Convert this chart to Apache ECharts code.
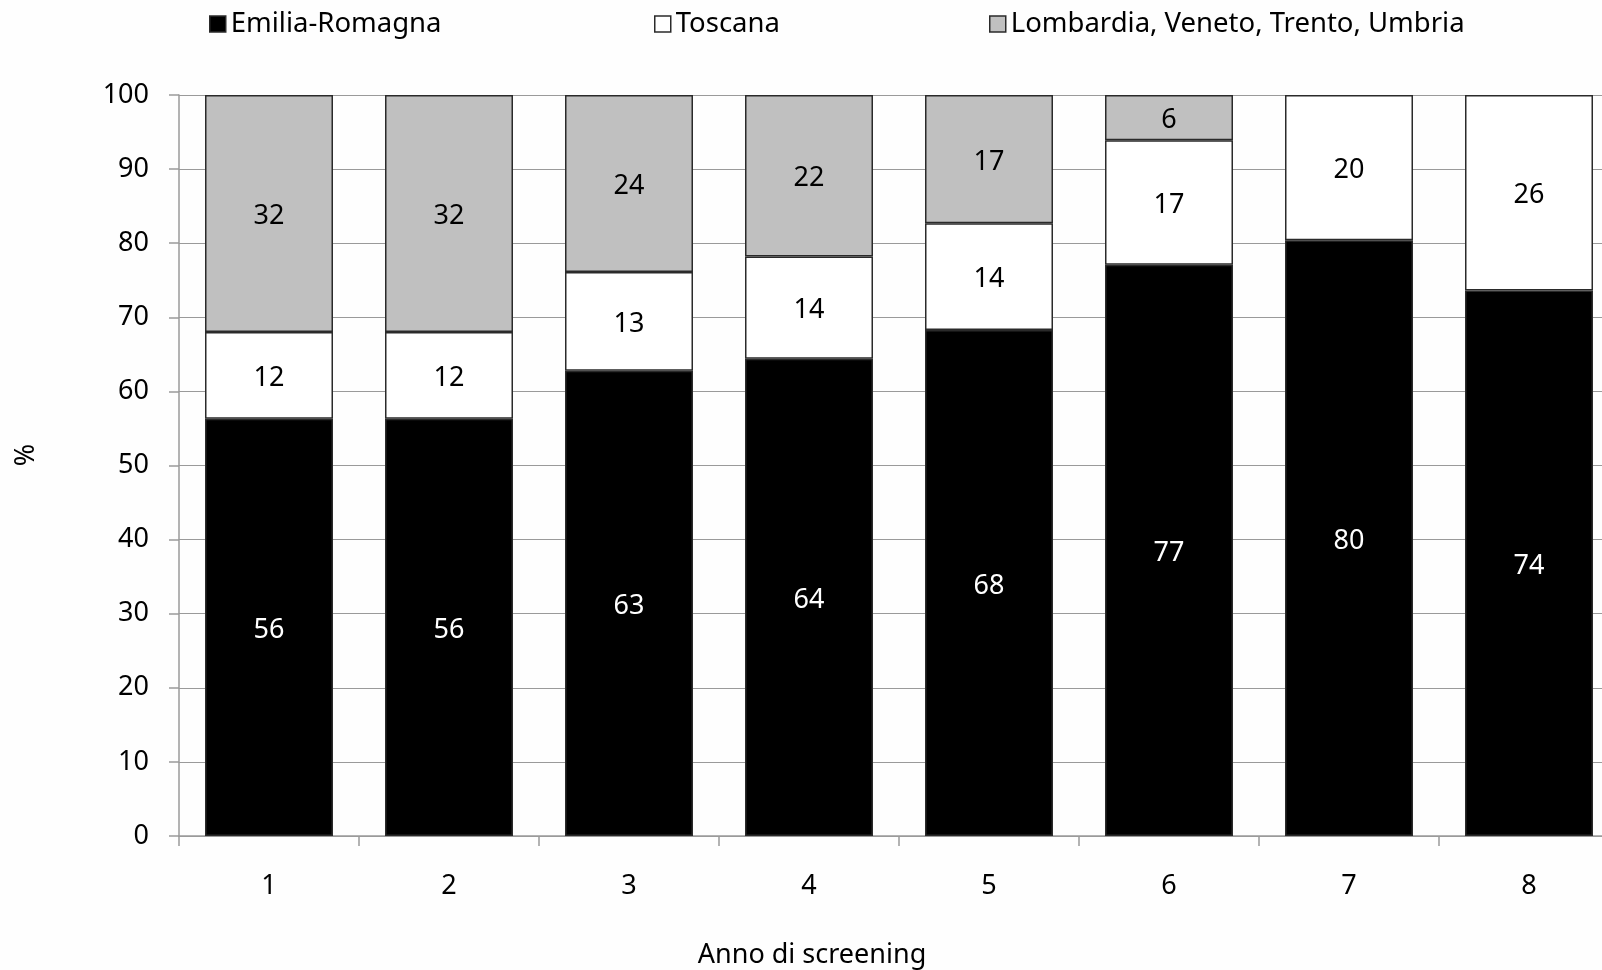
<!DOCTYPE html>
<html><head><meta charset="utf-8">
<script src="https://cdn.jsdelivr.net/npm/echarts@6/dist/echarts.min.js"></script>
<style>html,body{margin:0;padding:0;background:#fefefe;overflow:hidden}#c{width:1620px;height:970px}</style>
</head><body><div id="c"></div>
<script>
const categories = ['1','2','3','4','5','6','7','8'];
const emiliaRomagna = [56.3, 56.3, 62.8, 64.4, 68.3, 77.1, 80.4, 73.6];
const toscana = [11.7, 11.7, 13.3, 13.8, 14.4, 16.8, 19.6, 26.4];
const altre = [32.0, 32.0, 23.9, 21.8, 17.3, 6.1, null, null];
const seriesNames = ['Emilia-Romagna', 'Toscana', 'Lombardia, Veneto, Trento, Umbria'];
const yTicks = [0, 10, 20, 30, 40, 50, 60, 70, 80, 90, 100];

const FONT = 'Noto Sans';
const chart = echarts.init(document.getElementById('c'), null, {renderer: 'canvas'});
const labelFmt = p => (p.value == null ? '' : String(Math.round(p.value)));
function mkSeries(name, data, color, labelColor) {
  return {
    name, type: 'bar', stack: 'a', data, barWidth: 128,
    itemStyle: {color, borderColor: '#2a2a2a', borderWidth: 1.5},
    label: {show: true, position: 'inside', offset: [0, 3], color: labelColor, fontFamily: FONT, fontSize: 27, formatter: labelFmt},
    emphasis: {disabled: true}
  };
}
const legendBase = {
  top: 5, orient: 'horizontal', icon: 'rect', itemWidth: 16, itemHeight: 16, itemGap: 8,
  textStyle: {fontFamily: FONT, fontSize: 27.5, color: '#000'},
  selectedMode: false,
  itemStyle: {borderColor: '#2a2a2a', borderWidth: 1.5}
};
const AX = '#9a9a9a';
chart.setOption({
  backgroundColor: '#fefefe',
  animation: false,
  legend: [
    Object.assign({}, legendBase, {left: 204, data: [seriesNames[0]]}),
    Object.assign({}, legendBase, {left: 649, data: [seriesNames[1]]}),
    Object.assign({}, legendBase, {left: 984, data: [seriesNames[2]]})
  ],
  grid: {left: 179, top: 95, right: 1, bottom: 134, containLabel: false},
  xAxis: {
    type: 'category', data: categories,
    axisLine: {lineStyle: {color: AX, width: 1.5}},
    axisTick: {show: true, length: 10, lineStyle: {color: AX, width: 1.5}},
    axisLabel: {fontFamily: FONT, fontSize: 27, color: '#000', margin: 37}
  },
  yAxis: {
    type: 'value', min: 0, max: 100, interval: 10,
    axisLine: {show: true, lineStyle: {color: AX, width: 1.5}},
    axisTick: {show: true, length: 10, lineStyle: {color: AX, width: 1.5}},
    splitLine: {show: true, lineStyle: {color: AX, width: 1.2}},
    axisLabel: {fontFamily: FONT, fontSize: 27, color: '#000', margin: 30,
      formatter: v => (yTicks.indexOf(v) >= 0 ? String(v) : '')}
  },
  graphic: [
    {type: 'text', x: 812, y: 955, style: {text: 'Anno di screening', font: '27px "Noto Sans"', fill: '#000', align: 'center', verticalAlign: 'middle'}},
    {type: 'text', x: 26, y: 455, rotation: Math.PI / 2, style: {text: '%', font: '27px "Noto Sans"', fill: '#000', align: 'center', verticalAlign: 'middle'}}
  ],
  series: [
    mkSeries(seriesNames[0], emiliaRomagna, '#000000', '#ffffff'),
    mkSeries(seriesNames[1], toscana, '#ffffff', '#000000'),
    mkSeries(seriesNames[2], altre, '#c0c0c0', '#000000')
  ]
});
</script></body></html>
